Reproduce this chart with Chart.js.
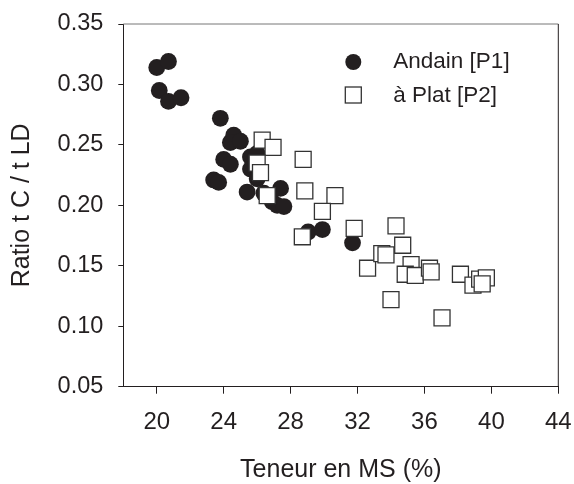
<!DOCTYPE html>
<html>
<head>
<meta charset="utf-8">
<script src="https://cdn.jsdelivr.net/npm/chart.js@4.4.1/dist/chart.umd.min.js"></script>
<style>
  body { margin: 0; background: #fff; }
  canvas { display: block; }
</style>
</head>
<body>
<canvas id="myScatter" width="574" height="484"></canvas>
<script>
// data
var andainX = [20.0, 20.7, 20.15, 20.7, 21.45, 23.8, 24.6, 24.4, 25.0, 24.0, 24.4, 23.4, 23.7,
               25.4, 25.6, 26.0, 25.6, 26.0, 26.4, 26.9, 27.4, 27.2, 27.6, 29.05, 29.9, 31.7];
var andainY = [0.314, 0.319, 0.295, 0.286, 0.289, 0.272, 0.258, 0.252, 0.253, 0.238, 0.234, 0.221, 0.219,
               0.211, 0.240, 0.243, 0.230, 0.222, 0.210, 0.203, 0.214, 0.200, 0.199, 0.178, 0.180, 0.169];

var platX = [26.3, 26.95, 26.0, 26.2, 26.6, 28.75, 28.85, 30.65, 29.9, 28.7, 31.8, 32.6, 33.45, 33.7,
             34.3, 34.7, 34.0, 35.2, 34.85, 35.45, 36.3, 36.4, 37.05, 38.15, 38.9, 39.3, 39.7, 39.45];
var platY = [0.254, 0.248, 0.235, 0.227, 0.208, 0.238, 0.212, 0.208, 0.195, 0.174, 0.181, 0.148, 0.160, 0.159,
             0.183, 0.167, 0.122, 0.151, 0.143, 0.142, 0.148, 0.145, 0.107, 0.143, 0.134, 0.139, 0.140, 0.135];

var seriesNames = ['Andain [P1]', 'à Plat [P2]'];
var xTicks = [20, 24, 28, 32, 36, 40, 44];
var yTicks = [0.05, 0.10, 0.15, 0.20, 0.25, 0.30, 0.35];

var FONT = '"Liberation Sans", Arial, Helvetica, sans-serif';
var INK = '#231f20';

function toPoints(xs, ys) {
  return xs.map(function (x, i) { return { x: x, y: ys[i] }; });
}

// box round the plot + legend inside the plot
var framePlugin = {
  id: 'frame',
  afterDatasetsDraw: function (chart) {
    var ctx = chart.ctx, a = chart.chartArea;
    ctx.save();
    ctx.lineWidth = 1;
    ctx.strokeStyle = '#777';
    ctx.beginPath();
    ctx.moveTo(a.left, a.top);
    ctx.lineTo(a.right, a.top);
    ctx.stroke();
    ctx.strokeStyle = INK;
    ctx.beginPath();
    ctx.moveTo(a.right, a.top);
    ctx.lineTo(a.right, a.bottom);
    ctx.stroke();

    // legend
    var lx = a.right - 205, ly = a.top + 38, gap = 33;
    ctx.fillStyle = INK;
    ctx.beginPath();
    ctx.arc(lx, ly, 8, 0, Math.PI * 2);
    ctx.fill();
    ctx.fillStyle = '#fff';
    ctx.strokeStyle = '#333';
    ctx.lineWidth = 1.3;
    ctx.fillRect(lx - 8, ly + gap - 8, 16, 16);
    ctx.strokeRect(lx - 8, ly + gap - 8, 16, 16);
    ctx.fillStyle = INK;
    ctx.font = '22.5px ' + FONT;
    ctx.textBaseline = 'middle';
    ctx.textAlign = 'left';
    ctx.fillText(seriesNames[0], lx + 40, ly);
    ctx.fillText(seriesNames[1], lx + 40, ly + gap + 1);
    ctx.restore();
  }
};

var ctx = document.getElementById('myScatter').getContext('2d');
var myScatter = new Chart(ctx, {
  type: 'scatter',
  data: {
    datasets: [{
      label: seriesNames[0],
      data: toPoints(andainX, andainY),
      pointStyle: 'circle',
      pointRadius: 8.4,
      backgroundColor: INK,
      borderColor: INK,
      borderWidth: 0,
      order: 1
    }, {
      label: seriesNames[1],
      data: toPoints(platX, platY),
      pointStyle: 'rect',
      pointRadius: 11.3,
      backgroundColor: '#fff',
      borderColor: '#333',
      borderWidth: 1.3,
      order: 0
    }]
  },
  options: {
    responsive: false,
    animation: false,
    events: [],
    layout: { padding: { left: 0, top: 24, right: 15.7, bottom: 0 } },
    plugins: {
      legend: { display: false },
      tooltip: { enabled: false }
    },
    scales: {
      x: {
        type: 'linear',
        min: 18,
        max: 44,
        afterBuildTicks: function (axis) {
          axis.ticks = xTicks.map(function (v) { return { value: v }; });
        },
        afterFit: function (axis) {
          axis.height = 97.3;
          axis.paddingLeft = 0;
          axis.paddingRight = 0;
        },
        grid: { drawOnChartArea: false, drawTicks: true, tickLength: 7, tickColor: INK },
        border: { display: true, color: INK, width: 1 },
        ticks: {
          color: INK,
          padding: 14,
          font: { family: FONT, size: 24 },
          callback: function (v) { return v; }
        },
        title: {
          display: true,
          text: 'Teneur en MS (%)',
          color: INK,
          font: { family: FONT, size: 25 },
          padding: { top: 0, bottom: -1 }
        }
      },
      y: {
        type: 'linear',
        min: 0.05,
        max: 0.35,
        afterBuildTicks: function (axis) {
          axis.ticks = yTicks.map(function (v) { return { value: v }; });
        },
        afterFit: function (axis) {
          axis.width = 123.3;
          axis.paddingTop = 0;
          axis.paddingBottom = 0;
        },
        grid: { drawOnChartArea: false, drawTicks: true, tickLength: 5, tickColor: INK },
        border: { display: true, color: INK, width: 1 },
        ticks: {
          color: INK,
          padding: 15,
          font: { family: FONT, size: 23.5 },
          callback: function (v) { return v.toFixed(2); }
        },
        title: {
          display: true,
          text: 'Ratio t C / t LD',
          color: INK,
          font: { family: FONT, size: 25 },
          padding: { top: 7, bottom: 0 }
        }
      }
    }
  },
  plugins: [framePlugin]
});
</script>
</body>
</html>
